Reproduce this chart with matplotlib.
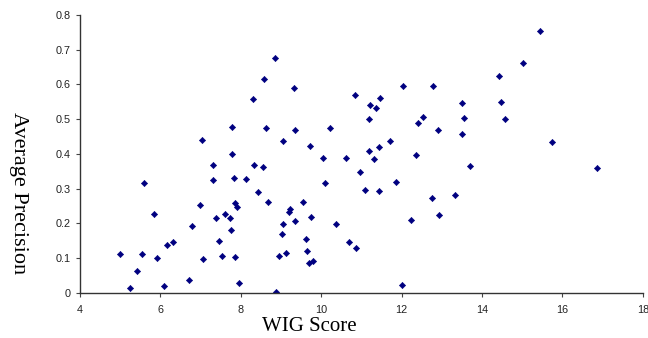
import matplotlib
matplotlib.use('Agg')
import matplotlib.pyplot as plt

# WIG score vs average precision
wig = [5.00, 5.25, 5.42, 5.55, 5.60, 5.85, 5.91, 6.08, 6.16, 6.31,
       6.70, 6.78, 6.99, 7.05, 7.03, 7.30, 7.32, 7.38, 7.46, 7.54,
       7.61, 7.74, 7.75, 7.78, 7.78, 7.84, 7.86, 7.90, 7.86, 7.96,
       8.14, 8.31, 8.33, 8.43, 8.54, 8.58, 8.63, 8.68, 8.85, 8.88,
       8.94, 9.02, 9.06, 9.06, 9.13, 9.20, 9.22, 9.32, 9.34, 9.36,
       9.55, 9.61, 9.65, 9.70, 9.72, 9.75, 9.79, 10.05, 10.09, 10.22,
       10.37, 10.62, 10.69, 10.84, 10.87, 10.97, 11.08, 11.19, 11.19, 11.21,
       11.31, 11.37, 11.43, 11.44, 11.45, 11.72, 11.87, 12.01, 12.04, 12.24,
       12.37, 12.40, 12.53, 12.75, 12.78, 12.91, 12.92, 13.34, 13.49, 13.50,
       13.54, 13.70, 14.41, 14.47, 14.57, 15.02, 15.43, 15.73, 16.86]
avg_prec = [0.112, 0.014, 0.063, 0.112, 0.315, 0.228, 0.099, 0.018, 0.137, 0.147,
            0.037, 0.193, 0.252, 0.097, 0.439, 0.369, 0.324, 0.214, 0.149, 0.106,
            0.228, 0.214, 0.181, 0.400, 0.477, 0.331, 0.258, 0.247, 0.102, 0.027,
            0.327, 0.557, 0.367, 0.290, 0.361, 0.616, 0.473, 0.261, 0.676, 0.001,
            0.106, 0.169, 0.198, 0.436, 0.115, 0.232, 0.240, 0.589, 0.206, 0.468,
            0.261, 0.154, 0.120, 0.086, 0.423, 0.219, 0.092, 0.387, 0.315, 0.475,
            0.198, 0.389, 0.147, 0.569, 0.129, 0.349, 0.297, 0.501, 0.409, 0.540,
            0.385, 0.532, 0.419, 0.294, 0.560, 0.436, 0.319, 0.021, 0.596, 0.210,
            0.396, 0.490, 0.505, 0.274, 0.594, 0.468, 0.225, 0.281, 0.456, 0.546,
            0.502, 0.366, 0.625, 0.550, 0.500, 0.661, 0.755, 0.433, 0.358]

xticks = [4, 6, 8, 10, 12, 14, 16, 18]
yticks = [0, 0.1, 0.2, 0.3, 0.4, 0.5, 0.6, 0.7, 0.8]
ytick_labels = ['0', '0.1', '0.2', '0.3', '0.4', '0.5', '0.6', '0.7', '0.8']

fig = plt.figure(figsize=(6.48, 3.38), dpi=100)
ax = fig.add_axes([0.1235, 0.134, 0.8685, 0.822])

ax.plot(wig, avg_prec, linestyle='none', marker='D', markersize=3.2,
        color='#000080', markeredgewidth=0.4)

ax.set_xlim(4, 18)
ax.set_ylim(0, 0.8)
ax.set_xticks(xticks)
ax.set_xticklabels([str(t) for t in xticks])
ax.set_yticks(yticks)
ax.set_yticklabels(ytick_labels)

for s in ['top', 'right']:
    ax.spines[s].set_visible(False)
for s in ['left', 'bottom']:
    ax.spines[s].set_color('#333333')
    ax.spines[s].set_linewidth(1.0)

ax.tick_params(direction='out', length=3, width=0.8, color='#444444',
               labelsize=7.8, labelcolor='#222222', pad=4)
ax.tick_params(axis='x', pad=6)
for lab in ax.get_xticklabels() + ax.get_yticklabels():
    lab.set_family('Liberation Sans')

fig.text(0.478, 0.022, 'WIG Score', ha='center', va='baseline',
         family='Liberation Serif', fontsize=15)
fig.text(0.028, 1 - 193.5 / 338, 'Average Precision', ha='center', va='center',
         rotation=-90, family='Liberation Serif', fontsize=16)

fig.savefig('out.png', dpi=100)
